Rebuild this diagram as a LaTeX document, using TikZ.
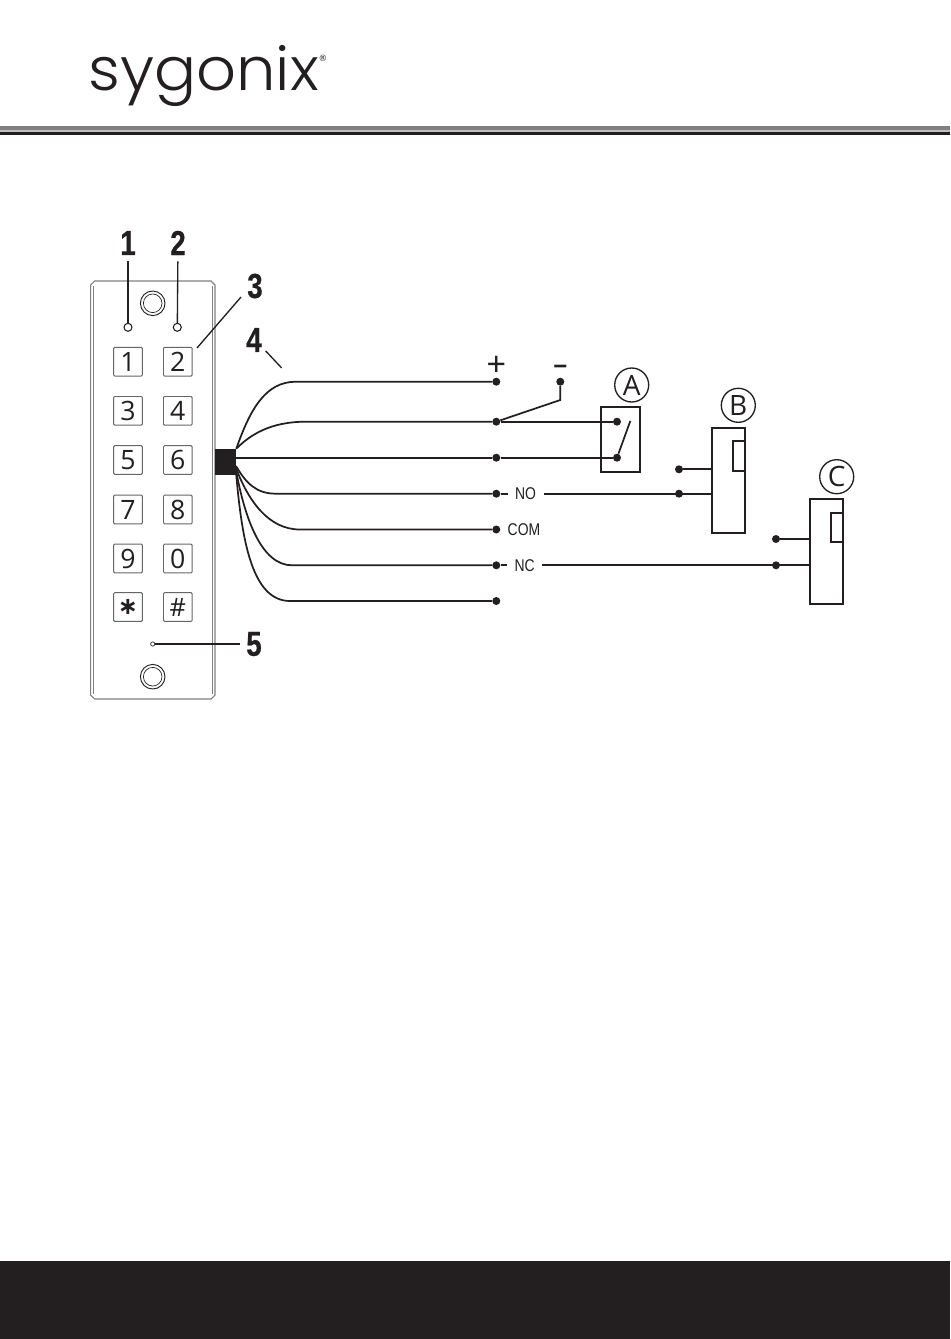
\documentclass[tikz,border=0pt]{standalone}
\usepackage{fontspec}
\usepackage{tikz}
\setmainfont{Liberation Sans}
\newfontfamily\logofont[FakeStretch=1.04,UprightFont=* Light]{Poppins}
\newfontfamily\calloutfont[FakeStretch=0.8,FakeBold=0.6]{Liberation Sans Bold}
\newfontfamily\wirefont[FakeStretch=0.82]{Liberation Sans}
\newfontfamily\keyfont{Open Sans}
\newfontfamily\markfont{DejaVu Sans}
\definecolor{inkblack}{HTML}{231F20}
\tikzset{
	wire/.style={inkblack, line width=1.3pt},
	device/.style={draw=inkblack, line width=1.35pt, rectangle, inner sep=0pt},
	dot/.style={circle, fill=inkblack, inner sep=0pt, minimum size=6pt},
	lamp/.style={circle, draw=inkblack, fill=white, line width=0.8pt, inner sep=0pt, minimum size=6pt},
	keycap/.style={draw=black!60, line width=0.7pt, rectangle, rounded corners=0.8pt, minimum size=21.5pt, inner sep=0pt, text=inkblack, font=\keyfont\fontsize{20}{20}\selectfont},
	callout/.style={inner sep=4.5pt, text=inkblack, font=\calloutfont\fontsize{26}{26}\selectfont},
	wirelabel/.style={inner ysep=0pt, inner xsep=5.5pt, text=inkblack, font=\wirefont\fontsize{12.75}{13}\selectfont},
	letter/.style={circle, draw=inkblack, line width=1pt, minimum size=25.5pt, inner sep=0pt, text=inkblack, font=\keyfont\fontsize{21}{21}\selectfont},
}
\begin{document}
\begin{tikzpicture}[x=0.75pt, y=-0.75pt]
	\useasboundingbox (0, 0) rectangle (950, 1339);
	\fill[white] (0, 0) rectangle (950, 1339);

	\node[inner sep=0pt, anchor=base west, text=inkblack, font=\logofont\fontsize{45}{45}\selectfont] (logo) at (88, 90) {sygonix};
	\node[inner sep=0pt, text=inkblack, font=\markfont\fontsize{6.5}{7}\selectfont] (regmark) at (323, 58) {®};
	\fill[gray] (0, 126) rectangle (950, 129.5);
	\fill[lightgray] (0, 129.5) rectangle (950, 131.5);
	\fill[inkblack] (0, 131.5) rectangle (950, 135);
	\fill[inkblack] (0, 1261) rectangle (950, 1339);

	% keypad housing
	\draw[gray, line width=0.8pt, fill=white] (94.5, 281) -- (211, 281) -- (215, 285) -- (215, 695) -- (211, 699) -- (94.5, 699) -- (90.7, 695) -- (90.7, 285) -- cycle;
	\draw[gray, line width=0.6pt] (93.5, 286) -- (93.5, 694);
	\draw[gray, line width=0.6pt] (212.5, 286) -- (212.5, 694);
	\foreach \screwname/\screwy in {top/303.3, bottom/676.7} {
		\draw[inkblack, line width=0.7pt] (152.7, \screwy) circle [radius=12.3];
		\draw[inkblack, line width=0.5pt] (152.7, \screwy) circle [radius=9.3];
	}

	\foreach \keytext/\keyx/\keyy in {1/128/361.7, 2/177.8/361.7, 3/128/410.8, 4/177.8/410.8, 5/128/460, 6/177.8/460, 7/128/509.5, 8/177.8/509.5, 9/128/558.5, 0/177.8/558.5} {
		\node[keycap] (key\keytext) at (\keyx, \keyy) {\keytext};
	}
	\node[keycap, font=\markfont\bfseries\fontsize{18}{18}\selectfont] (keystar) at (128, 607) {∗};
	\node[keycap, font=\keyfont\fontsize{19}{19}\selectfont] (keyhash) at (177.8, 607) {\#};

	\node[lamp] (ledone) at (128, 327.3) {};
	\node[lamp] (ledtwo) at (177.3, 327.3) {};
	\node[lamp, minimum size=3.2pt, line width=0.5pt] (ledfive) at (152.7, 644) {};

	\node[callout] (numone) at (128, 243) {1};
	\node[callout] (numtwo) at (178, 243) {2};
	\node[callout] (numthree) at (255, 286) {3};
	\node[callout] (numfour) at (254, 340) {4};
	\node[callout] (numfive) at (254, 644) {5};
	\coordinate (threefrom) at (241, 297);
	\coordinate (threeto) at (197, 348);
	\coordinate (fourfrom) at (265.7, 351);
	\coordinate (fourto) at (281.7, 368);
	\draw[wire, line width=1.2pt] (numone) -- (ledone);
	\draw[wire, line width=1pt] (numtwo) -- (ledtwo);
	\draw[wire, line width=1pt] (threefrom) -- (threeto);
	\draw[wire, line width=1pt] (fourfrom) -- (fourto);
	\draw[wire, line width=1.1pt] (numfive) -- (ledfive);

	% cable and wires
	\node[rectangle, fill=inkblack, inner sep=0pt, minimum width=15.75pt, minimum height=19.25pt] (cable) at (225.5, 461.8) {};

	\node[dot] (plus) at (496.3, 381.7) {};
	\node[dot] (relayone) at (496.3, 421.7) {};
	\node[dot] (relaytwo) at (496.3, 457.7) {};
	\node[dot] (wireno) at (496.3, 493.7) {};
	\node[dot] (wirecom) at (496.3, 529.5) {};
	\node[dot] (wirenc) at (496.3, 565.3) {};
	\node[dot] (wirelast) at (496.3, 601) {};
	\node[dot] (minus) at (560.3, 381.7) {};
	\coordinate (bend) at (560.3, 400);

	\draw[wire] (cable.north east) .. controls (250, 410) and (265, 381.7) .. (296, 381.7) -- (plus);
	\draw[wire] (cable.north east) .. controls (250, 435) and (270, 421.7) .. (306, 421.7) -- (relayone);
	\draw[wire] (cable.east |- relaytwo) -- (relaytwo);
	\draw[wire] (236, 466) .. controls (246, 483) and (256, 493.7) .. (276, 493.7) -- (wireno);
	\draw[wire] (236, 468) .. controls (248, 500) and (268, 529.5) .. (300, 529.5) -- (wirecom);
	\draw[wire] (236, 470) .. controls (245, 520) and (262, 565.3) .. (292, 565.3) -- (wirenc);
	\draw[wire] (cable.south east) .. controls (242, 540) and (252, 601) .. (290, 601) -- (wirelast);
	\draw[wire] (relayone) -- (bend) -- (minus);

	\node[inner sep=0pt, text=inkblack, font=\fontsize{25}{25}\selectfont] (plussign) at (496.3, 365.5) {+};
	\node[inner sep=0pt, text=inkblack, font=\bfseries\fontsize{18}{18}\selectfont] (minussign) at (560.3, 370.3) {−};

	\node[wirelabel] (labelno) at (525.6, 493.7) {NO};
	\node[wirelabel, inner xsep=0pt] (labelcom) at (524, 529.5) {COM};
	\node[wirelabel] (labelnc) at (524.7, 565.3) {NC};

	% devices
	\node[device, minimum width=29.5pt, minimum height=48.5pt] (boxa) at (620.7, 439.4) {};
	\node[letter] (lettera) at (631.7, 385) {A};
	\node[dot] (contactone) at (617, 421.7) {};
	\node[dot] (contacttwo) at (617, 457.7) {};
	\coordinate (armend) at (630.3, 421);
	\draw[wire] (relayone) -- (contactone);
	\draw[wire] (relaytwo) -- (contacttwo);
	\draw[wire] (contacttwo) -- (armend);

	\node[device, minimum width=25pt, minimum height=79pt] (boxb) at (728.4, 480.4) {};
	\node[device, minimum width=9.5pt, minimum height=22.5pt] (magnetb) at (739, 456) {};
	\node[letter] (letterb) at (738.3, 405.3) {B};
	\node[dot] (bupper) at (679, 469.3) {};
	\node[dot] (blower) at (679, 493.7) {};
	\draw[wire] (bupper) -- (boxb.west |- bupper);
	\draw[wire] (wireno) -- (labelno);
	\draw[wire] (labelno) -- (boxb.west |- blower);

	\node[device, minimum width=25pt, minimum height=79pt] (boxc) at (826.4, 551.4) {};
	\node[device, minimum width=9.5pt, minimum height=22pt] (magnetc) at (837, 527.5) {};
	\node[letter] (letterc) at (836.7, 476.7) {C};
	\node[dot] (cupper) at (776, 539) {};
	\node[dot] (clower) at (776, 565.3) {};
	\draw[wire] (cupper) -- (boxc.west |- cupper);
	\draw[wire] (wirenc) -- (labelnc);
	\draw[wire] (labelnc) -- (boxc.west |- clower);
\end{tikzpicture}
\end{document}
